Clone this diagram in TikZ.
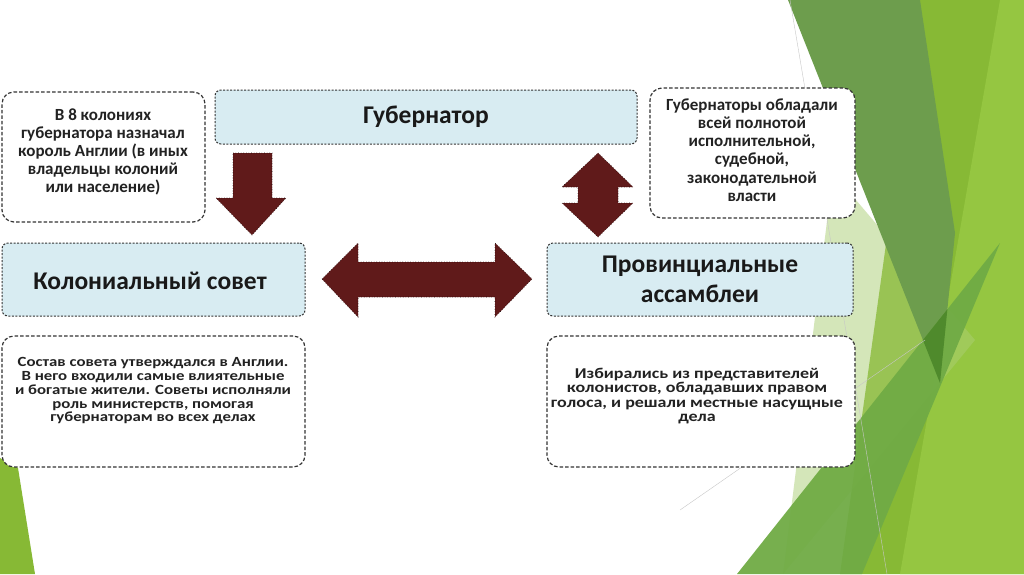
\documentclass[tikz,border=0pt]{standalone}
\usepackage{fontspec}
\setmainfont{Carlito}
\newfontfamily\widefont[FakeStretch=1.2]{Carlito}
\usetikzlibrary{calc}
\definecolor{arrowred}{HTML}{601A1A}
\definecolor{boxblue}{HTML}{D8ECF2}
\definecolor{edgegray}{HTML}{333333}
\definecolor{txt}{HTML}{222222}
\definecolor{gdark}{HTML}{6D9D4D}
\definecolor{gyel}{HTML}{87B935}
\definecolor{glight}{HTML}{95C641}
\definecolor{gpale}{HTML}{ABCE74}
\definecolor{gmid}{HTML}{70AB45}
\definecolor{gdeep}{HTML}{4F8A2C}
\tikzset{
  notebox/.style={draw=edgegray, dashed, dash pattern=on 3.5pt off 2pt, line width=1.2pt, fill=white, rounded corners=12pt, inner sep=0pt},
  bluebox/.style={draw=edgegray, dash pattern=on 2pt off 1.5pt, line width=1pt, fill=boxblue, rounded corners=6pt, inner sep=0pt},
  notetext/.style={text=txt, align=center, font=\bfseries\fontsize{17}{18.2}\selectfont, inner sep=0pt},
  smalltext/.style={text=txt, align=center, font=\widefont\bfseries\fontsize{14}{13.75}\selectfont, inner sep=0pt},
  titletext/.style={text=black!90, align=center, font=\bfseries\fontsize{25.5}{30}\selectfont, inner sep=0pt},
  blockarrow/.style={fill=arrowred, draw=black!70!arrowred, line width=0.6pt, dotted},
  thinline/.style={draw=black!22, line width=0.4pt}
}
\begin{document}
\begin{tikzpicture}[x=1pt,y=-1pt]
\useasboundingbox (0,0) rectangle (1024,574);
\fill[white] (0,0) rectangle (1024,574);
% background facets
\fill[gyel] (920,0) -- (1024,0) -- (1024,574) -- (840,574) -- cycle;
\fill[glight] (1000,0) -- (1024,0) -- (1024,574) -- (900,574) -- cycle;
\fill[gpale, opacity=0.5] (833,173) -- (975,340) -- (783,574) -- cycle;
\fill[gdark] (788,0) -- (920,0) -- (955,233) -- (940,383) -- cycle;
\fill[gmid, opacity=0.95] (737,574) -- (1000,243) -- (862,574) -- cycle;
\begin{scope}
  \clip (788,0) -- (920,0) -- (955,233) -- (940,383) -- cycle;
  \fill[gdeep] (737,574) -- (1000,243) -- (862,574) -- cycle;
\end{scope}
\fill[gyel] (0,458) -- (18,468) -- (35,574) -- (0,574) -- cycle;
\draw[thinline] (790,0) -- (887,574);
\draw[thinline] (680,510) -- (925,340);
% boxes
\node[notebox, minimum width=203pt, minimum height=130pt] (n1) at (103.5,157) {};
\node[notetext] (n1t) at (103,152) {В 8 колониях\\губернатора назначал\\король Англии (в иных\\владельцы колоний\\или население)};
\node[bluebox, minimum width=422pt, minimum height=54pt] (gov) at (426,117) {};
\node[titletext] (govt) at (426,117) {Губернатор};
\node[notebox, minimum width=205pt, minimum height=130pt] (n2) at (752.5,153) {};
\node[notetext] (n2t) at (752,150) {Губернаторы обладали\\всей полнотой\\исполнительной,\\судебной,\\законодательной\\власти};
\node[bluebox, minimum width=303pt, minimum height=73pt] (col) at (153.5,279.5) {};
\node[titletext] (colt) at (150,281) {Колониальный совет};
\node[bluebox, minimum width=306pt, minimum height=73pt] (prov) at (700,279.5) {};
\node[titletext] (provt) at (700,279) {Провинциальные\\ассамблеи};
\node[notebox, minimum width=303pt, minimum height=131pt] (b1) at (153.5,401.5) {};
\node[smalltext] (b1t) at (153,391) {Состав совета утверждался в Англии.\\В него входили самые влиятельные\\и богатые жители. Советы исполняли\\роль министерств, помогая\\губернаторам во всех делах};
\node[notebox, minimum width=308pt, minimum height=131pt] (b2) at (701,401.5) {};
\node[smalltext, font=\widefont\bfseries\fontsize{15}{14.6}\selectfont] (b2t) at (697,396) {Избирались из представителей\\колонистов, обладавших правом\\голоса, и решали местные насущные\\дела};
% block arrows
\path[blockarrow] (233,153) -- (272,153) -- (272,198) -- (286,198) -- (252,235) -- (216,198) -- (233,198) -- cycle;
\path[blockarrow] (598,153) -- (633,187) -- (618,187) -- (618,203) -- (633,203) -- (598,237) -- (562,203) -- (578,203) -- (578,187) -- (562,187) -- cycle;
\path[blockarrow] (322,279) -- (358,243) -- (358,262) -- (495,262) -- (495,243) -- (532,279) -- (495,317) -- (495,297) -- (358,297) -- (358,317) -- cycle;
\end{tikzpicture}
\end{document}
